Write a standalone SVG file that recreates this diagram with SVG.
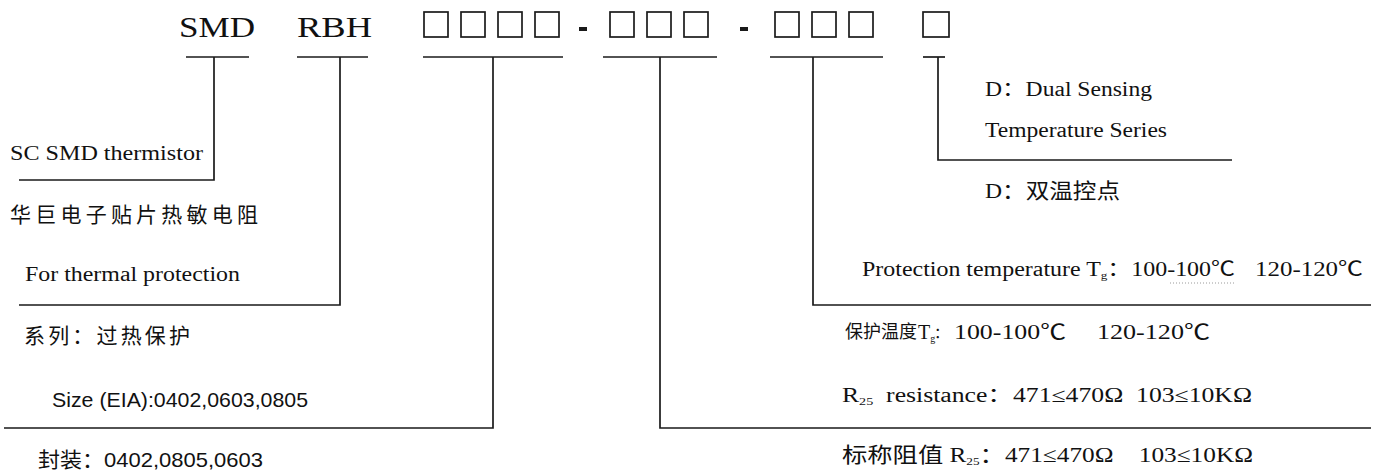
<svg xmlns="http://www.w3.org/2000/svg" width="1382" height="473" viewBox="0 0 1382 473">
<style>
  .ln{fill:none;stroke:#1a1a1a;stroke-width:1.7}
  .box{fill:none;stroke:#1a1a1a;stroke-width:1.7}
  .serif{font-family:"Liberation Serif","Noto Sans CJK SC",serif;fill:#111}
  .sans{font-family:"Liberation Sans","Noto Sans CJK SC",sans-serif;fill:#111}
  .cjk{font-family:"Noto Sans CJK SC",sans-serif;fill:#111}
  .code{font-size:30px}
  .t{font-size:20px}
  .c{font-size:21px}
  .s{font-size:21px}
  text{white-space:pre}
</style>
<rect width="1382" height="473" fill="#ffffff"/>

<g id="seg-smd">
  <text class="serif code" x="179" y="37" textLength="76" lengthAdjust="spacingAndGlyphs">SMD</text>
  <line class="ln" x1="186" y1="57" x2="249" y2="57"/>
</g>
<g id="seg-rbh">
  <text class="serif code" x="297" y="37" textLength="75" lengthAdjust="spacingAndGlyphs">RBH</text>
  <line class="ln" x1="297" y1="57" x2="368" y2="57"/>
</g>
<g id="seg-size">
  <rect class="box" x="424" y="12" width="24" height="25"/>
  <rect class="box" x="461" y="12" width="24" height="25"/>
  <rect class="box" x="498" y="12" width="24" height="25"/>
  <rect class="box" x="535" y="12" width="24" height="25"/>
  <line class="ln" x1="423" y1="57" x2="563" y2="57"/>
</g>
<rect id="dash-1" x="579" y="27" width="8" height="4" fill="#1a1a1a"/>
<g id="seg-resistance">
  <rect class="box" x="610" y="12" width="24" height="25"/>
  <rect class="box" x="647" y="12" width="24" height="25"/>
  <rect class="box" x="684" y="12" width="24" height="25"/>
  <line class="ln" x1="603" y1="57" x2="717" y2="57"/>
</g>
<rect id="dash-2" x="740" y="27" width="8" height="4" fill="#1a1a1a"/>
<g id="seg-temp">
  <rect class="box" x="775" y="12" width="24" height="25"/>
  <rect class="box" x="812" y="12" width="24" height="25"/>
  <rect class="box" x="849" y="12" width="24" height="25"/>
  <line class="ln" x1="770" y1="57" x2="883" y2="57"/>
</g>
<g id="seg-dual">
  <rect class="box" x="923" y="12" width="26" height="25"/>
  <line class="ln" x1="923" y1="57" x2="945" y2="57"/>
</g>

<g id="connectors">
  <polyline class="ln" points="214,57 214,180 19,180"/>
  <polyline class="ln" points="340,57 340,305 19,305"/>
  <polyline class="ln" points="493,57 493,428 4,428"/>
  <polyline class="ln" points="660,57 660,428 1371,428"/>
  <polyline class="ln" points="813,57 813,305 1371,305"/>
  <polyline class="ln" points="938,57 938,160 1232,160"/>
</g>

<g id="label-smd">
  <text class="serif t" x="10" y="160" textLength="193" lengthAdjust="spacingAndGlyphs">SC SMD thermistor</text>
  <text class="cjk c" x="10" y="222" textLength="248" lengthAdjust="spacing">华巨电子贴片热敏电阻</text>
</g>
<g id="label-rbh">
  <text class="serif t" x="25" y="281" textLength="215" lengthAdjust="spacingAndGlyphs">For thermal protection</text>
  <text class="cjk c" x="24" y="343" textLength="166" lengthAdjust="spacing">系列：过热保护</text>
</g>
<g id="label-size">
  <text class="sans s" x="52" y="407" textLength="256" lengthAdjust="spacingAndGlyphs">Size (EIA):0402,0603,0805</text>
  <text class="sans s" x="38" y="467" textLength="225" lengthAdjust="spacingAndGlyphs">封装：0402,0805,0603</text>
</g>
<g id="label-dual">
  <text class="serif t" x="985" y="96" textLength="167" lengthAdjust="spacingAndGlyphs">D：Dual Sensing</text>
  <text class="serif t" x="985" y="137" textLength="182" lengthAdjust="spacingAndGlyphs">Temperature Series</text>
  <text class="serif c" x="985" y="198" textLength="135" lengthAdjust="spacingAndGlyphs">D：双温控点</text>
</g>
<g id="label-temp">
  <text class="serif t" x="862" y="276" textLength="373" lengthAdjust="spacingAndGlyphs">Protection temperature T<tspan font-size="11" dy="3">g</tspan><tspan dy="-3">：100-100℃</tspan></text>
  <text class="serif t" x="1255" y="276" textLength="108" lengthAdjust="spacingAndGlyphs">120-120℃</text>
  <line x1="1170" y1="283" x2="1236" y2="283" stroke="#9a9a9a" stroke-width="1" stroke-dasharray="1 2"/>
  <text class="cjk" font-size="18" x="845" y="338">保护温度</text>
  <text class="serif t" x="918" y="339">T<tspan font-size="10" dy="3">g</tspan></text>
  <text class="cjk" font-size="15" x="934" y="338">：</text>
  <text class="serif c" x="954" y="339" textLength="112" lengthAdjust="spacingAndGlyphs">100-100℃</text>
  <text class="serif c" x="1097" y="339" textLength="113" lengthAdjust="spacingAndGlyphs">120-120℃</text>
</g>
<g id="label-resistance">
  <text class="serif t" x="842" y="402" textLength="410" lengthAdjust="spacingAndGlyphs">R<tspan font-size="11" dy="3">25</tspan><tspan dy="-3">  resistance：471≤470Ω  103≤10KΩ</tspan></text>
  <text class="serif c" x="842" y="462" textLength="411" lengthAdjust="spacingAndGlyphs">标称阻值 R<tspan font-size="11" dy="3">25</tspan><tspan dy="-3">：471≤470Ω    103≤10KΩ</tspan></text>
</g>
</svg>
